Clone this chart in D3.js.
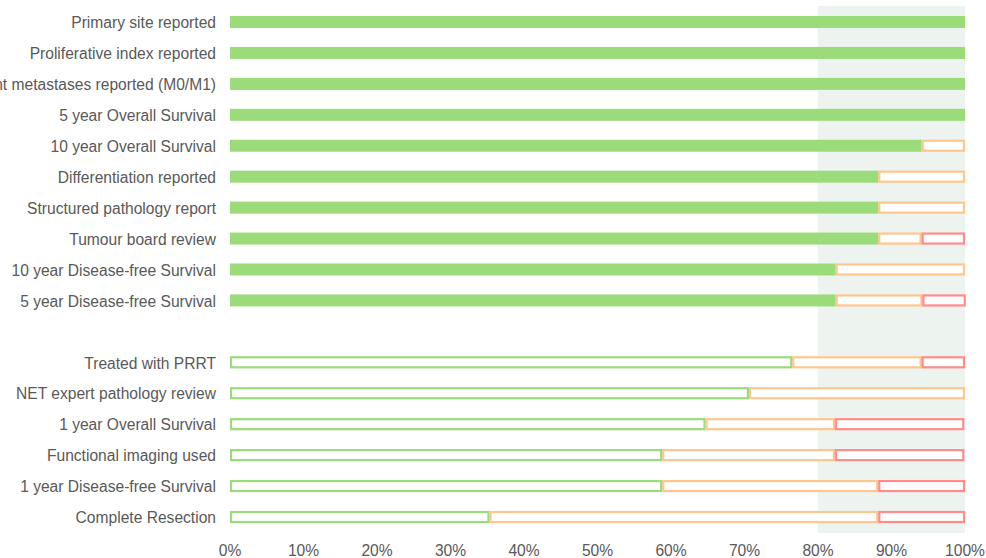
<!DOCTYPE html>
<html>
<head>
<meta charset="utf-8">
<script src="https://cdn.jsdelivr.net/npm/d3@7"></script>
<style>
  body { margin: 0; background: #fff; }
  svg { display: block; font-family: "Liberation Sans", Arial, sans-serif; }
</style>
</head>
<body>
<svg id="chart" width="986" height="558"></svg>
<script>
// Quality indicators — share of centres (green = yes, orange = partly, red = no)
const topLabels = [
  "Primary site reported",
  "Proliferative index reported",
  "Distant metastases reported (M0/M1)",
  "5 year Overall Survival",
  "10 year Overall Survival",
  "Differentiation reported",
  "Structured pathology report",
  "Tumour board review",
  "10 year Disease-free Survival",
  "5 year Disease-free Survival"
];
const topGreen = [100, 100, 100, 100, 94.1, 88.2, 88.2, 88.2, 82.4, 82.4];
const topOrange = [0, 0, 0, 0, 5.9, 11.8, 11.8, 5.9, 17.6, 11.8];
const topRed = [0, 0, 0, 0, 0, 0, 0, 5.9, 0, 5.9];

const bottomLabels = [
  "Treated with PRRT",
  "NET expert pathology review",
  "1 year Overall Survival",
  "Functional imaging used",
  "1 year Disease-free Survival",
  "Complete Resection"
];
const bottomGreen = [76.5, 70.6, 64.7, 58.8, 58.8, 35.3];
const bottomOrange = [17.6, 29.4, 17.6, 23.5, 29.4, 52.9];
const bottomRed = [5.9, 0, 17.6, 17.6, 11.8, 11.8];

const ticks = [0, 10, 20, 30, 40, 50, 60, 70, 80, 90, 100];
const targetFrom = 80;

const colors = { green: "#9bdb79", orange: "#ffc68e", red: "#ff8c8c" };

const rows = [
  ...topLabels.map((label, i) => ({
    label, slot: i, filled: true,
    parts: [topGreen[i], topOrange[i], topRed[i]]
  })),
  ...bottomLabels.map((label, i) => ({
    label, slot: topLabels.length + 1 + i, filled: false,
    parts: [bottomGreen[i], bottomOrange[i], bottomRed[i]]
  }))
];

const svg = d3.select("#chart");
const x = d3.scaleLinear().domain([0, 100]).range([230, 965]);
const y = d3.scaleLinear().domain([0, 16]).range([22, 517]);
const barH = 12;

// target zone
svg.append("rect")
  .attr("x", x(targetFrom))
  .attr("y", 6)
  .attr("width", x(100) - x(targetFrom))
  .attr("height", 527)
  .attr("fill", "#edf4ef");

// labels
svg.append("g")
  .selectAll("text")
  .data(rows)
  .join("text")
  .attr("x", 216)
  .attr("y", d => y(d.slot))
  .attr("dy", "0.4em")
  .attr("text-anchor", "end")
  .attr("fill", "#595959")
  .attr("font-size", 15.6)
  .text(d => d.label);

// bars
const segs = [];
rows.forEach(r => {
  let start = 0;
  r.parts.forEach((v, k) => {
    if (v > 0) segs.push({ row: r, k, x0: start, x1: start + v });
    start += v;
  });
});
const keys = ["green", "orange", "red"];
const solid = d => d.k === 0 && d.row.filled;

svg.append("g")
  .selectAll("rect")
  .data(segs)
  .join("rect")
  .attr("x", d => x(d.x0) + (solid(d) ? 0 : 1))
  .attr("y", d => y(d.row.slot) - barH / 2 + (solid(d) ? 0 : 1))
  .attr("width", d => x(d.x1) - x(d.x0) - (solid(d) ? 0 : 2))
  .attr("height", d => barH - (solid(d) ? 0 : 2))
  .attr("fill", d => (solid(d) ? colors.green : "#fff"))
  .attr("stroke", d => (solid(d) ? "none" : colors[keys[d.k]]))
  .attr("stroke-width", 2.2);

// x axis labels
svg.append("g")
  .selectAll("text")
  .data(ticks)
  .join("text")
  .attr("x", d => x(d))
  .attr("y", 556)
  .attr("text-anchor", "middle")
  .attr("fill", "#595959")
  .attr("font-size", 15.6)
  .text(d => d + "%");
</script>
</body>
</html>
